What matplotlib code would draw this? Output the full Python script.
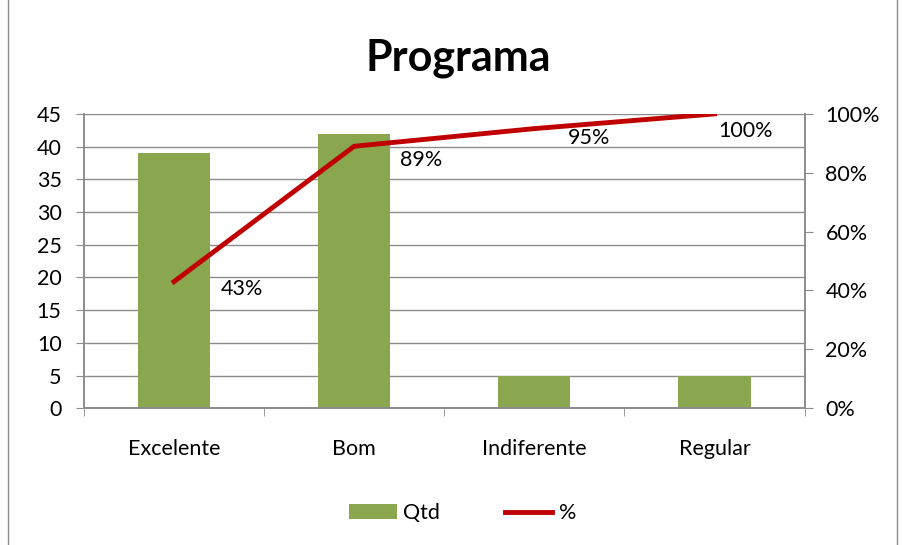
import matplotlib
matplotlib.use('Agg')
import matplotlib.pyplot as plt
from matplotlib.patches import Rectangle
from matplotlib.ticker import MultipleLocator, FuncFormatter

plt.rcParams['font.family'] = ['Lato', 'DejaVu Sans']

categorias = ['Excelente', 'Bom', 'Indiferente', 'Regular']
qtd = [39, 42, 5, 5]
pct = [0.43, 0.89, 0.95, 1.00]
pct_labels = ['43%', '89%', '95%', '100%']

verde = '#8AA64F'
vermelho = '#C00000'
cinza = '#8C8C8C'
fs = 15.5

fig = plt.figure(figsize=(9.02, 5.45), dpi=100)
ax = fig.add_axes([0.093, 0.251, 0.799, 0.54])
ax2 = ax.twinx()

x = list(range(len(categorias)))
ax.bar(x, qtd, width=0.4, color=verde, label='Qtd', zorder=2)
ax.set_xlim(-0.5, 3.5)
ax.set_ylim(0, 45)
ax.yaxis.set_major_locator(MultipleLocator(5))
ax.grid(axis='y', color=cinza, linewidth=1, zorder=0)
ax.set_axisbelow(True)
ax.set_xticks(x)
ax.set_xticklabels(categorias, fontsize=fs)
ax.set_xticks([-0.5, 0.5, 1.5, 2.5, 3.5], minor=True)
ax.tick_params(axis='x', which='major', length=0, pad=22)
ax.tick_params(axis='x', which='minor', length=6, color=cinza, direction='out')
ax.tick_params(axis='y', labelsize=fs, length=6, color=cinza, pad=10)

ax2.plot(x, pct, color=vermelho, linewidth=3.5, label='%', zorder=3)
ax2.set_ylim(0, 1)
ax2.yaxis.set_major_locator(MultipleLocator(0.2))
ax2.yaxis.set_major_formatter(FuncFormatter(lambda v, p: '%d%%' % round(v * 100)))
ax2.tick_params(axis='y', labelsize=fs, length=6, color=cinza, pad=9)

# deslocamento dos rótulos (pontos), como o Excel os colocou
desloc = [(34, -5), (33, -10), (24, -7), (3, -12)]
for xi, yi, t, d in zip(x, pct, pct_labels, desloc):
    ax2.annotate(t, (xi, yi), xytext=d, textcoords='offset points',
                 ha='left', va='center', fontsize=fs)

for a in (ax, ax2):
    a.spines['top'].set_visible(False)
    for s in ['left', 'right', 'bottom']:
        a.spines[s].set_color(cinza)
        a.spines[s].set_linewidth(1.2)

fig.text(0.508, 0.893, 'Programa', ha='center', va='center',
         fontsize=31, fontweight='bold')

h1, l1 = ax.get_legend_handles_labels()
h2, l2 = ax2.get_legend_handles_labels()
fig.legend(h1 + h2, l1 + l2, loc='center', bbox_to_anchor=(0.513, 0.058),
           ncol=2, frameon=False, fontsize=fs, handlelength=2.2,
           handletextpad=0.3, columnspacing=3.0)

fig.patches.append(Rectangle((0.009, -0.01), 0.985, 1.02, transform=fig.transFigure,
                             fill=False, edgecolor=cinza, linewidth=1))

fig.savefig('out.png', dpi=100)
